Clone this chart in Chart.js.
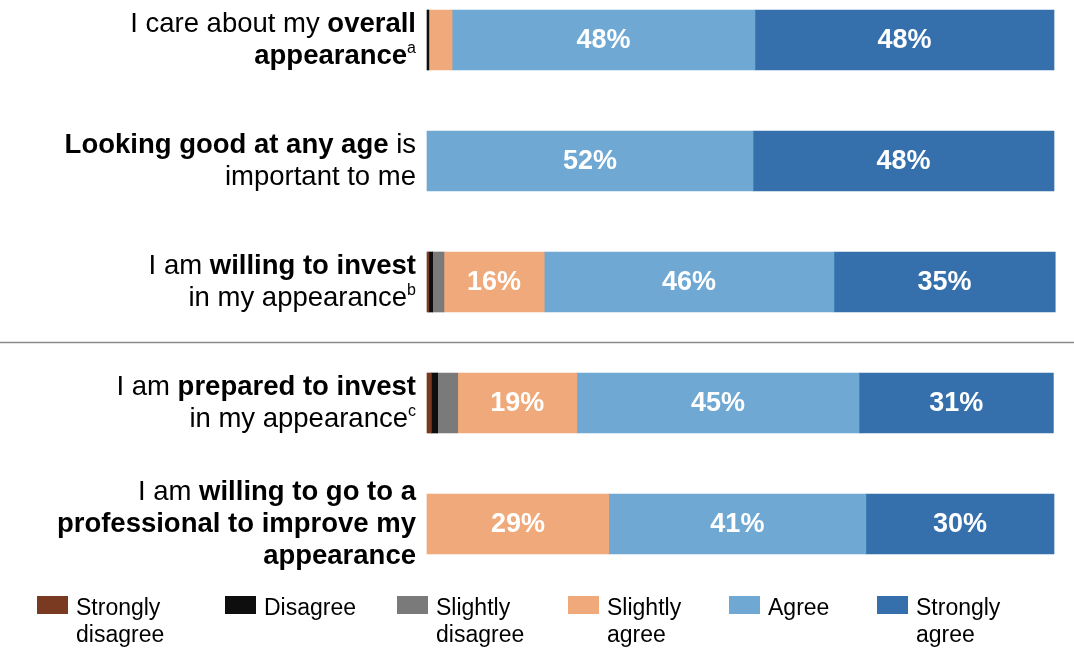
<!DOCTYPE html>
<html>
<head>
<meta charset="utf-8">
<script src="https://cdn.jsdelivr.net/npm/chart.js@4.4.0/dist/chart.umd.min.js"></script>
<style>
  html, body { margin: 0; padding: 0; background: #fff; }
  canvas { display: block; }
</style>
</head>
<body>
<canvas id="likertChart" width="1074" height="658"></canvas>
<script>
// statements (one per bar, top to bottom)
const categories = ['overall', 'anyAge', 'willing', 'prepared', 'professional'];

// rich text for the left labels: [text, style] where style is 'n' normal, 'b' bold, 's' superscript
const labelLines = [
    [[['I care about my ', 'n'], ['overall', 'b']], [['appearance', 'b'], ['a', 's']]],
    [[['Looking good at any age', 'b'], [' is', 'n']], [['important to me', 'n']]],
    [[['I am ', 'n'], ['willing to invest', 'b']], [['in my appearance', 'n'], ['b', 's']]],
    [[['I am ', 'n'], ['prepared to invest', 'b']], [['in my appearance', 'n'], ['c', 's']]],
    [[['I am ', 'n'], ['willing to go to a', 'b']], [['professional to improve my', 'b']], [['appearance', 'b']]]
];

// percentages per answer
const stronglyDisagree = [0, 0, 0.3, 0.7, 0];
const disagree         = [0.3, 0, 0.6, 1.0, 0];
const slightlyDisagree = [0, 0, 1.8, 3.2, 0];
const slightlyAgree    = [3.7, 0, 16, 19, 29];
const agree            = [48.3, 52, 46.2, 45, 41];
const stronglyAgree    = [47.7, 48, 35.3, 31, 30];

const seriesNames = [['Strongly', 'disagree'], ['Disagree'], ['Slightly', 'disagree'], ['Slightly', 'agree'], ['Agree'], ['Strongly', 'agree']];
const seriesColors = ['#7a3a22', '#0e0e0e', '#7a7a7a', '#efa97a', '#6fa8d3', '#3570ad'];

const FONT = '"Liberation Sans", Arial, Helvetica, sans-serif';

const customDraw = {
    id: 'customDraw',
    afterDatasetsDraw(chart) {
        const ctx = chart.ctx;
        const yScale = chart.scales.y;

        // values inside the segments
        ctx.save();
        ctx.fillStyle = '#fff';
        ctx.font = 'bold 27px ' + FONT;
        ctx.textAlign = 'center';
        ctx.textBaseline = 'middle';
        chart.data.datasets.forEach((ds, di) => {
            const meta = chart.getDatasetMeta(di);
            meta.data.forEach((el, i) => {
                const v = ds.data[i];
                if (v >= 10) {
                    ctx.fillText(Math.round(v) + '%', (el.x + el.base) / 2, el.y + 1);
                }
            });
        });
        ctx.restore();

        // left labels with mixed weights
        ctx.save();
        ctx.fillStyle = '#000';
        ctx.textBaseline = 'middle';
        ctx.textAlign = 'left';
        const lineH = 32;
        const rightEdge = 416;
        const fontFor = s => s === 'b' ? 'bold 27.5px ' + FONT : (s === 's' ? '16px ' + FONT : '27.5px ' + FONT);
        labelLines.forEach((lines, i) => {
            const cy = yScale.getPixelForValue(i);
            const top = cy - (lines.length - 1) * lineH / 2;
            lines.forEach((parts, li) => {
                let w = 0;
                parts.forEach(([t, s]) => { ctx.font = fontFor(s); w += ctx.measureText(t).width; });
                let x = rightEdge - w;
                const y = top + li * lineH;
                parts.forEach(([t, s]) => {
                    ctx.font = fontFor(s);
                    ctx.fillText(t, x, s === 's' ? y - 7 : y);
                    x += ctx.measureText(t).width;
                });
            });
        });
        ctx.restore();

        // separator between the two groups
        const ySep = (yScale.getPixelForValue(2) + yScale.getPixelForValue(3)) / 2;
        ctx.save();
        ctx.strokeStyle = '#8a8a8a';
        ctx.lineWidth = 1.5;
        ctx.beginPath();
        ctx.moveTo(0, ySep);
        ctx.lineTo(chart.width, ySep);
        ctx.stroke();
        ctx.restore();

        // legend
        const legendX = [37, 225, 397, 568, 729, 877];
        ctx.save();
        ctx.textBaseline = 'middle';
        ctx.textAlign = 'left';
        ctx.font = '23px ' + FONT;
        seriesNames.forEach((name, i) => {
            ctx.fillStyle = seriesColors[i];
            ctx.fillRect(legendX[i], 596, 31, 18);
            ctx.fillStyle = '#000';
            name.forEach((t, li) => ctx.fillText(t, legendX[i] + 39, 609 + li * 27));
        });
        ctx.restore();
    }
};

const allSeries = [stronglyDisagree, disagree, slightlyDisagree, slightlyAgree, agree, stronglyAgree];

new Chart(document.getElementById('likertChart').getContext('2d'), {
    type: 'bar',
    data: {
        labels: categories,
        datasets: allSeries.map((d, i) => ({
            label: seriesNames[i].join(' '),
            data: d,
            // empty answers must not leave a hairline at the bar's start
            backgroundColor: c => (c.raw > 0 ? seriesColors[i] : 'rgba(0,0,0,0)'),
            borderWidth: 0,
            barThickness: 60,
            clip: false
        }))
    },
    options: {
        responsive: false,
        animation: false,
        indexAxis: 'y',
        layout: { padding: { left: 427, right: 20, top: 40, bottom: 134 } },
        plugins: {
            legend: { display: false },
            tooltip: { enabled: false }
        },
        scales: {
            x: { stacked: true, min: 0, max: 100, display: false },
            y: { stacked: true, offset: false, display: false }
        }
    },
    plugins: [customDraw]
});
</script>
</body>
</html>
